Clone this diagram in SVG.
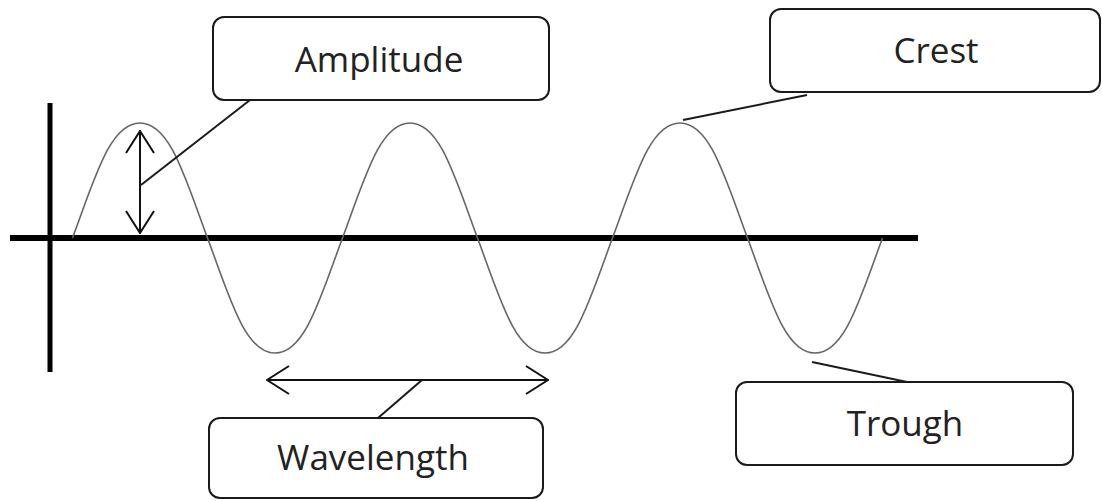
<svg xmlns="http://www.w3.org/2000/svg" width="1102" height="501" viewBox="0 0 1102 501">
<style>
.box{fill:#fff;stroke:#1a1a1a;stroke-width:2}
.lbl{font-family:"Open Sans","Liberation Sans",sans-serif;font-size:35px;fill:#222;text-anchor:middle}
.lead{stroke:#1a1a1a;stroke-width:2;fill:none}
.arr{stroke:#111;stroke-width:2;fill:none;marker-start:url(#v);marker-end:url(#v)}
</style>
<defs>
<marker id="v" viewBox="0 0 24 30" refX="23" refY="15" markerWidth="24" markerHeight="30" markerUnits="userSpaceOnUse" orient="auto-start-reverse">
<path d="M1,1 L23,15 L1,29" fill="none" stroke="#111" stroke-width="2"/>
</marker>
</defs>
<g id="axes">
<line x1="50" y1="103" x2="50" y2="372" stroke="#000" stroke-width="5"/>
<line x1="10" y1="238" x2="918" y2="238" stroke="#000" stroke-width="6"/>
</g>
<g id="wave">
<path d="M72.5,238 C95,177.6 110,123 140,123 C170,123 185,177.6 207.5,238 C230,298.4 245,353 275,353 C305,353 320,298.4 342.5,238 C365,177.6 380,123 410,123 C440,123 455,177.6 477.5,238 C500,298.4 515,353 545,353 C575,353 590,298.4 612.5,238 C635,177.6 650,123 680,123 C710,123 725,177.6 747.5,238 C770,298.4 785,353 815,353 C845,353 860,298.4 882.5,238" fill="none" stroke="#666" stroke-width="1.6"/>
</g>
<g id="connectors">
<line class="arr" x1="140" y1="131" x2="140" y2="233"/>
<line class="arr" x1="267" y1="380" x2="548" y2="380"/>
<line class="lead" x1="141" y1="185" x2="250" y2="100"/>
<line class="lead" x1="807" y1="95" x2="683" y2="120"/>
<line class="lead" x1="422" y1="380" x2="378" y2="418"/>
<line class="lead" x1="812" y1="362" x2="907" y2="382"/>
</g>
<g id="amplitude">
<rect class="box" x="213" y="17" width="336" height="83" rx="11"/>
<text class="lbl" x="379" y="72">Amplitude</text>
</g>
<g id="crest">
<rect class="box" x="770" y="9" width="330" height="83" rx="11"/>
<text class="lbl" x="936" y="63">Crest</text>
</g>
<g id="wavelength">
<rect class="box" x="209" y="418" width="334" height="80" rx="11"/>
<text class="lbl" x="373" y="470">Wavelength</text>
</g>
<g id="trough">
<rect class="box" x="736" y="382" width="337" height="83" rx="11"/>
<text class="lbl" x="905" y="436">Trough</text>
</g>
</svg>
